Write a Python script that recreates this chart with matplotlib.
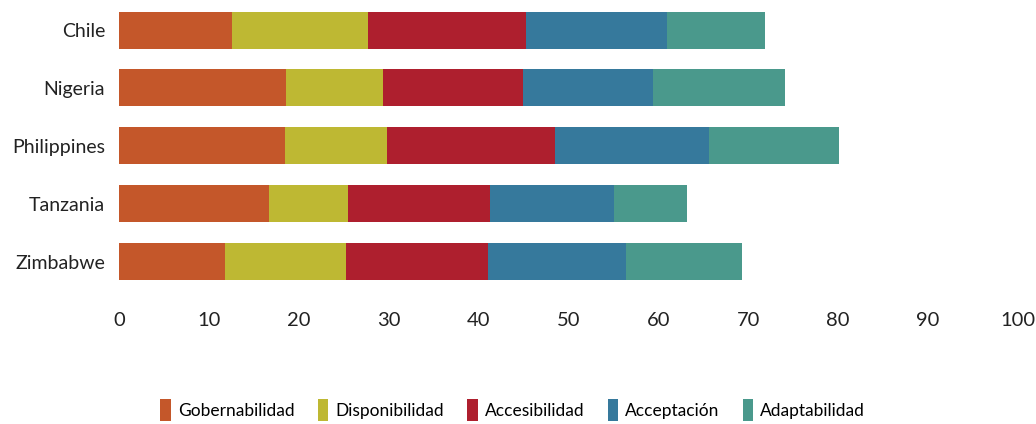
import matplotlib
matplotlib.use("Agg")
import matplotlib.pyplot as plt
import numpy as np

# データ
countries = ["Chile", "Nigeria", "Philippines", "Tanzania", "Zimbabwe"]
categories = ["Gobernabilidad", "Disponibilidad", "Accesibilidad", "Acceptación", "Adaptabilidad"]
gobernabilidad = [12.6, 18.6, 18.5, 16.7, 11.8]
disponibilidad = [15.1, 10.8, 11.3, 8.8, 13.5]
accesibilidad = [17.6, 15.5, 18.7, 15.8, 15.7]
aceptacion = [15.7, 14.5, 17.1, 13.8, 15.4]
adaptabilidad = [10.9, 14.7, 14.5, 8.1, 12.9]
xticks = [0, 10, 20, 30, 40, 50, 60, 70, 80, 90, 100]

colors = ["#C4572A", "#BEB833", "#AE1F2E", "#36799C", "#4A998C"]

plt.rcParams['font.family'] = ['Lato', 'DejaVu Sans']

fig = plt.figure(figsize=(10.36, 4.24), dpi=100)
ax = fig.add_axes([0.1149, 0.304, 0.8677, 0.696])

y = np.arange(len(countries))
left = np.zeros(len(countries))
series = [gobernabilidad, disponibilidad, accesibilidad, aceptacion, adaptabilidad]
for vals, name, c in zip(series, categories, colors):
    ax.barh(y, vals, left=left, height=0.64, color=c, label=name)
    left += np.array(vals)

ax.set_xlim(0, 100)
ax.set_ylim(4.58, -0.52)
ax.set_xticks(xticks)
ax.set_yticks(y)
ax.set_yticklabels(countries)
ax.tick_params(axis="x", length=0, pad=12, labelsize=14.5, colors="#222222")
ax.tick_params(axis="y", length=0, pad=10, labelsize=14, colors="#222222")
for s in ax.spines.values():
    s.set_visible(False)

# 凡例
fig.legend(loc="center", bbox_to_anchor=(0.495, 1 - 410 / 424), ncol=5, frameon=False,
           fontsize=12.5, handlelength=0.6, handleheight=1.5, handletextpad=0.4,
           columnspacing=1.35)

fig.savefig("out.png", dpi=100)
